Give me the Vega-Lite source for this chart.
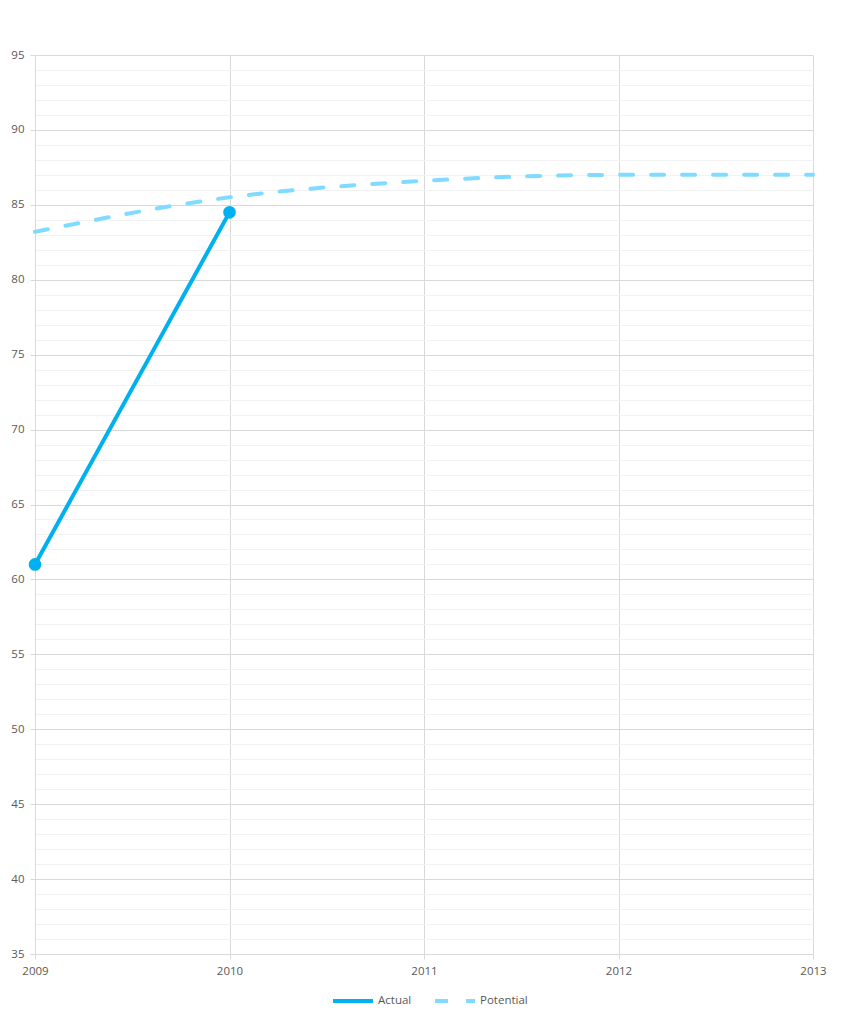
{
  "$schema": "https://vega.github.io/schema/vega-lite/v6.json",
  "width": 778,
  "height": 899,
  "autosize": "none",
  "padding": {"left": 35, "top": 55, "right": 30, "bottom": 69},
  "background": "white",
  "config": {
    "view": {"stroke": null},
    "font": "Open Sans",
    "axis": {"labelFont": "Open Sans", "labelFontSize": 11.5, "labelColor": "#595959"}
  },
  "data": {
    "values": [
      {"year": 2009, "value": 83.2, "series": "Potential"},
      {"year": 2010, "value": 85.5, "series": "Potential"},
      {"year": 2011, "value": 86.6, "series": "Potential"},
      {"year": 2012, "value": 87.0, "series": "Potential"},
      {"year": 2013, "value": 87.0, "series": "Potential"},
      {"year": 2009, "value": 61.0, "series": "Actual"},
      {"year": 2010, "value": 84.5, "series": "Actual"}
    ]
  },
  "encoding": {
    "x": {
      "field": "year", "type": "quantitative",
      "scale": {"domain": [2009, 2013], "nice": false, "zero": false},
      "axis": {
        "title": null, "values": [2009, 2010, 2011, 2012, 2013], "format": "d",
        "grid": true, "gridColor": "#d9d9d9", "domainColor": "#d9d9d9",
        "tickColor": "#d9d9d9", "tickSize": 5, "labelPadding": 6, "labelFlush": false
      }
    },
    "y": {
      "field": "value", "type": "quantitative",
      "scale": {"domain": [35, 95], "nice": false, "zero": false}
    }
  },
  "layer": [
    {
      "mark": {"type": "line", "strokeWidth": 4, "strokeCap": "round", "interpolate": "monotone"},
      "encoding": {
        "y": {
          "field": "value", "type": "quantitative",
          "scale": {"domain": [35, 95], "nice": false, "zero": false},
          "axis": {
            "title": null, "values": [35, 40, 45, 50, 55, 60, 65, 70, 75, 80, 85, 90, 95],
            "grid": true, "gridColor": "#d9d9d9", "domainColor": "#d9d9d9",
            "tickColor": "#d9d9d9", "tickSize": 5, "labelPadding": 6
          }
        },
        "color": {
          "field": "series", "type": "nominal",
          "scale": {"domain": ["Actual", "Potential"], "range": ["#00B0F0", "#7FDBFF"]},
          "legend": {
            "title": null, "orient": "none", "direction": "horizontal",
            "legendX": 296, "legendY": 924, "padding": 0,
            "symbolType": "stroke", "symbolSize": 1600, "symbolStrokeWidth": 4,
            "labelFont": "Open Sans", "labelFontSize": 11.5, "labelColor": "#595959",
            "labelOffset": 3, "columnPadding": 15
          }
        },
        "strokeDash": {
          "field": "series", "type": "nominal",
          "scale": {"domain": ["Actual", "Potential"], "range": [[1, 0], [13, 18]]},
          "legend": null
        }
      }
    },
    {
      "transform": [{"filter": "datum.series === 'Actual'"}],
      "mark": {"type": "point", "filled": true, "opacity": 1, "size": 160, "color": "#00B0F0"},
      "encoding": {
        "y": {
          "field": "value", "type": "quantitative",
          "scale": {"domain": [35, 95], "nice": false, "zero": false},
          "axis": {
            "orient": "right", "title": null,
            "values": [36,37,38,39,41,42,43,44,46,47,48,49,51,52,53,54,56,57,58,59,61,62,63,64,66,67,68,69,71,72,73,74,76,77,78,79,81,82,83,84,86,87,88,89,91,92,93,94],
            "grid": true, "gridColor": "#f2f2f2", "labels": false, "ticks": false, "domain": false
          }
        }
      }
    }
  ],
  "resolve": {"axis": {"y": "independent"}}
}
